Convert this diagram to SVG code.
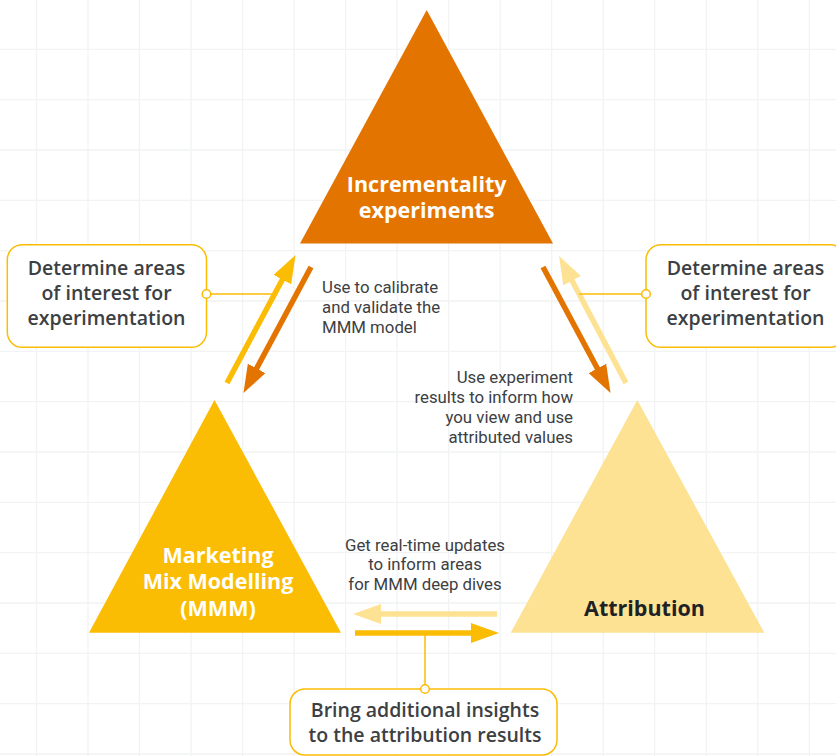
<svg xmlns="http://www.w3.org/2000/svg" width="836" height="756" viewBox="0 0 836 756">
<style>
.grid{stroke:#f1f3f4;stroke-width:1.3;fill:none}
.box{fill:#fff;stroke:#fbbc04;stroke-width:1.5}
.dot{fill:#fff;stroke:#fbbc04;stroke-width:1.5}
.conn{stroke:#fbbc04;stroke-width:1.5;fill:none}
.ar{stroke-width:5.5;fill:none}
.btxt{font-family:"Open Sans","Liberation Sans",sans-serif;font-weight:600;font-size:19.5px;fill:#3c4043;text-anchor:middle}
.stxt{font-family:Roboto,"Liberation Sans",sans-serif;font-size:16.8px;fill:#3c4043}
.ttxt{font-family:"Open Sans","Liberation Sans",sans-serif;font-weight:700;font-size:21.5px;text-anchor:middle}
</style>
<defs>
<marker id="hO" viewBox="0 -10 28 20" refX="1" refY="0" markerWidth="28" markerHeight="20" markerUnits="userSpaceOnUse" orient="auto"><path d="M0,-10 L28,0 L0,10 z" fill="#e37400"/></marker>
<marker id="hY" viewBox="0 -10 28 20" refX="1" refY="0" markerWidth="28" markerHeight="20" markerUnits="userSpaceOnUse" orient="auto"><path d="M0,-10 L28,0 L0,10 z" fill="#fbbc04"/></marker>
<marker id="hL" viewBox="0 -10 28 20" refX="1" refY="0" markerWidth="28" markerHeight="20" markerUnits="userSpaceOnUse" orient="auto"><path d="M0,-10 L28,0 L0,10 z" fill="#fde293"/></marker>
</defs>
<rect width="836" height="756" fill="#fff"/>
<g id="grid" class="grid">
<path d="M36.5,0V756M88,0V756M139.5,0V756M191.1,0V756M242.6,0V756M294.1,0V756M345.6,0V756M397.1,0V756M448.7,0V756M500.2,0V756M551.7,0V756M603.2,0V756M654.7,0V756M706.3,0V756M757.8,0V756M809.3,0V756"/>
<path d="M0,49.3H836M0,99.6H836M0,150H836M0,200.3H836M0,250.7H836M0,301H836M0,351.3H836M0,401.7H836M0,452H836M0,502.4H836M0,552.7H836M0,603H836M0,653.4H836M0,703.7H836M0,754H836"/>
</g>
<g id="node-incrementality">
<polygon points="426.7,10 553,243.5 300,243.5" fill="#e37400"/>
<text class="ttxt" fill="#fff" x="426.7" y="191.7">Incrementality</text>
<text class="ttxt" fill="#fff" x="426.7" y="218.3">experiments</text>
</g>
<g id="node-mmm">
<polygon points="214.5,400 341,632.7 89,632.7" fill="#fbbc04"/>
<text class="ttxt" fill="#fff" x="218" y="562.6">Marketing</text>
<text class="ttxt" fill="#fff" x="218" y="589.3">Mix Modelling</text>
<text class="ttxt" fill="#fff" x="218" y="616">(MMM)</text>
</g>
<g id="node-attribution">
<polygon points="637.3,400 764.3,632.7 510.7,632.7" fill="#fde293"/>
<text class="ttxt" fill="#202124" x="644.5" y="616">Attribution</text>
</g>
<g id="connectors">
<line class="ar" stroke="#fbbc04" x1="227" y1="383" x2="282.8" y2="278.7" marker-end="url(#hY)"/>
<line class="ar" stroke="#e37400" x1="311" y1="267" x2="256.2" y2="369.3" marker-end="url(#hO)"/>
<line class="ar" stroke="#e37400" x1="543" y1="267" x2="597.8" y2="369.3" marker-end="url(#hO)"/>
<line class="ar" stroke="#fde293" x1="626" y1="383" x2="571.6" y2="279.8" marker-end="url(#hL)"/>
<line class="ar" stroke="#fde293" x1="497" y1="614" x2="380" y2="614" marker-end="url(#hL)"/>
<line class="ar" stroke="#fbbc04" x1="355" y1="633" x2="472" y2="633" marker-end="url(#hY)"/>
<line class="conn" x1="206.5" y1="294" x2="274" y2="294"/>
<line class="conn" x1="579" y1="294" x2="646" y2="294"/>
<line class="conn" x1="425" y1="633" x2="425" y2="689"/>
</g>
<g id="label-calibrate" class="stxt">
<text x="322" y="293">Use to calibrate</text>
<text x="322" y="313">and validate the</text>
<text x="322" y="333">MMM model</text>
</g>
<g id="label-experiment" class="stxt" text-anchor="end">
<text x="573" y="382.7">Use experiment</text>
<text x="573" y="402.7">results to inform how</text>
<text x="573" y="422.7">you view and use</text>
<text x="573" y="442.7">attributed values</text>
</g>
<g id="label-realtime" class="stxt" text-anchor="middle">
<text x="425" y="550.5">Get real-time updates</text>
<text x="425" y="570">to inform areas</text>
<text x="425" y="589.5">for MMM deep dives</text>
</g>
<g id="box-left">
<rect class="box" x="7.3" y="244.7" width="199.2" height="102.6" rx="15"/>
<circle class="dot" cx="206.5" cy="294" r="4.3"/>
<text class="btxt" x="106.5" y="275">Determine areas</text>
<text class="btxt" x="106.5" y="300">of interest for</text>
<text class="btxt" x="106.5" y="325">experimentation</text>
</g>
<g id="box-right">
<rect class="box" x="646" y="244.7" width="199.2" height="102.6" rx="15"/>
<circle class="dot" cx="646" cy="294" r="4.3"/>
<text class="btxt" x="745.5" y="275">Determine areas</text>
<text class="btxt" x="745.5" y="300">of interest for</text>
<text class="btxt" x="745.5" y="325">experimentation</text>
</g>
<g id="box-bottom">
<rect class="box" x="290" y="689" width="267" height="66" rx="15"/>
<circle class="dot" cx="425" cy="689" r="4.3"/>
<text class="btxt" x="425" y="716.7">Bring additional insights</text>
<text class="btxt" x="425" y="741.7">to the attribution results</text>
</g>
</svg>
